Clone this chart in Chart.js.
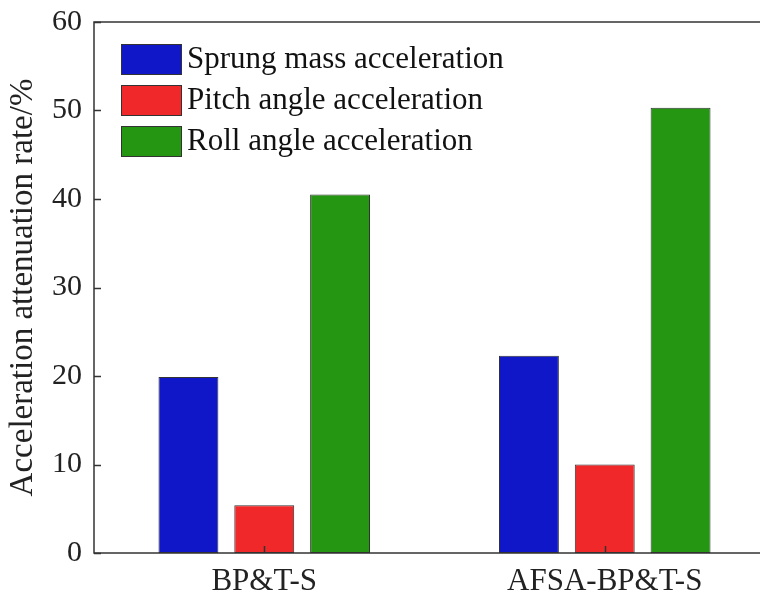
<!DOCTYPE html>
<html lang="en">
<head>
    <meta charset="UTF-8">
    <title>Acceleration attenuation rate</title>
    <script src="https://cdn.jsdelivr.net/npm/chart.js"></script>
    <style>
        html, body { margin: 0; padding: 0; background: #fff; overflow: hidden; }
        .chart-box { position: relative; width: 800px; height: 597px; }
    </style>
</head>
<body>
    <div class="chart-box">
        <canvas id="rateChart"></canvas>
    </div>

    <script>
        // data
        const categories = ["BP&T-S", "AFSA-BP&T-S"];
        const sprungMass = [19.9, 22.3];
        const pitchAngle = [5.4, 10.0];
        const rollAngle = [40.5, 50.3];
        const yTicks = [0, 10, 20, 30, 40, 50, 60];

        const serif = "'Liberation Serif', 'Times New Roman', serif";
        const axisColor = "#333333";

        // inward tick marks + box frame, MATLAB style
        const framePlugin = {
            id: "frame",
            afterDraw(chart) {
                const ctx = chart.ctx;
                const a = chart.chartArea;
                const y = chart.scales.y;
                const x = chart.scales.x;
                ctx.save();
                ctx.strokeStyle = axisColor;
                ctx.lineWidth = 1.5;
                ctx.strokeRect(a.left, a.top, a.right - a.left, a.bottom - a.top);
                ctx.beginPath();
                yTicks.forEach(v => {
                    const py = Math.round(y.getPixelForValue(v)) + 0.5;
                    ctx.moveTo(a.left, py);
                    ctx.lineTo(a.left + 7, py);
                });
                categories.forEach((c, i) => {
                    const px = Math.round(x.getPixelForValue(i)) + 0.5;
                    ctx.moveTo(px, a.bottom);
                    ctx.lineTo(px, a.bottom - 7);
                });
                ctx.stroke();
                ctx.restore();
            }
        };

        // legend drawn inside the plot, top-left
        const insideLegend = {
            id: "insideLegend",
            afterDraw(chart) {
                const ctx = chart.ctx;
                const a = chart.chartArea;
                ctx.save();
                ctx.font = "31px " + serif;
                ctx.textBaseline = "middle";
                chart.data.datasets.forEach((ds, i) => {
                    const bx = a.left + 27;
                    const by = a.top + 22 + i * 41;
                    ctx.fillStyle = ds.backgroundColor;
                    ctx.fillRect(bx, by, 61, 30);
                    ctx.strokeStyle = axisColor;
                    ctx.lineWidth = 1;
                    ctx.strokeRect(bx + 0.5, by + 0.5, 60, 30);
                    ctx.fillStyle = "#111";
                    ctx.fillText(ds.label, bx + 66, by + 16);
                });
                ctx.restore();
            }
        };

        const ctx = document.getElementById("rateChart").getContext("2d");
        new Chart(ctx, {
            type: "bar",
            data: {
                labels: categories,
                datasets: [
                    { label: "Sprung mass acceleration", data: sprungMass, backgroundColor: "#0f17c8" },
                    { label: "Pitch angle acceleration", data: pitchAngle, backgroundColor: "#f0282a" },
                    { label: "Roll angle acceleration", data: rollAngle, backgroundColor: "#249612" }
                ]
            },
            options: {
                responsive: true,
                maintainAspectRatio: false,
                animation: false,
                layout: { padding: { top: 22, right: 25, bottom: 0, left: 0 } },
                datasets: {
                    bar: {
                        categoryPercentage: 0.668,
                        barPercentage: 0.79,
                        borderColor: axisColor,
                        borderWidth: 1,
                        borderSkipped: false
                    }
                },
                plugins: {
                    tooltip: { enabled: false },
                    legend: { display: false }
                },
                scales: {
                    x: {
                        afterFit(scale) {
                            scale.height = 44;
                            scale.paddingLeft = 0;
                            scale.paddingRight = 0;
                        },
                        grid: { display: false, drawTicks: false },
                        border: { display: false },
                        ticks: {
                            font: { family: serif, size: 31 },
                            color: "#222",
                            padding: 10,
                            maxRotation: 0
                        }
                    },
                    y: {
                        min: 0,
                        max: 60,
                        afterFit(scale) {
                            scale.width = 94;
                            scale.paddingTop = 0;
                            scale.paddingBottom = 0;
                        },
                        afterBuildTicks(scale) { scale.ticks = yTicks.map(v => ({ value: v })); },
                        grid: { display: false, drawTicks: false },
                        border: { display: false },
                        ticks: {
                            font: { family: serif, size: 30 },
                            color: "#222",
                            padding: 12
                        },
                        title: {
                            display: true,
                            text: "Acceleration attenuation rate/%",
                            font: { family: serif, size: 33 },
                            color: "#222",
                            padding: { top: 4, bottom: 0 }
                        }
                    }
                }
            },
            plugins: [framePlugin, insideLegend]
        });
    </script>
</body>
</html>
